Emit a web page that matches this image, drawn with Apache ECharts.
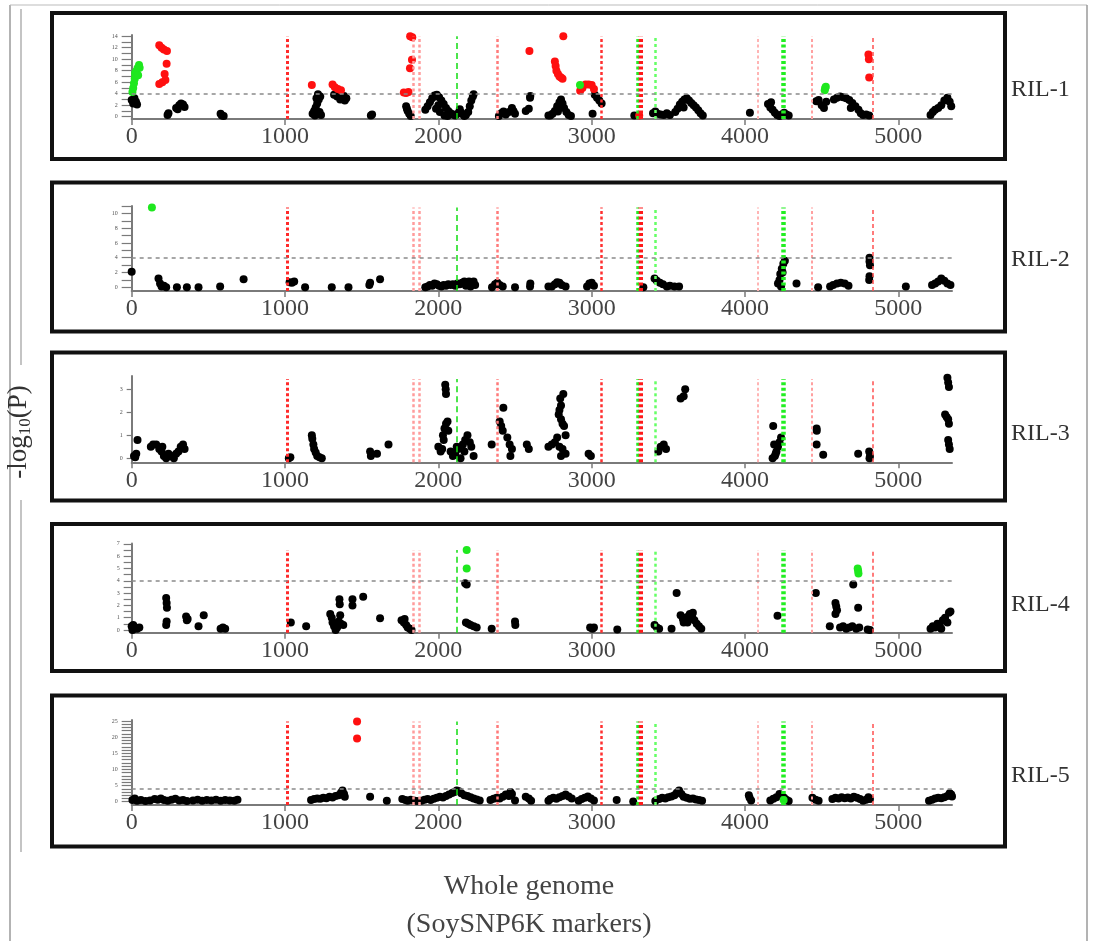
<!DOCTYPE html>
<html><head><meta charset="utf-8">
<script src="https://cdn.jsdelivr.net/npm/echarts@6/dist/echarts.min.js"></script>
<style>html,body{margin:0;padding:0;background:#fff}#c{width:1093px;height:941px}</style>
</head><body><div id="c"></div>
<script>
// ---------- DATA ----------
const panelNames = ['RIL-1','RIL-2','RIL-3','RIL-4','RIL-5'];
const xTicks = [0,1000,2000,3000,4000,5000];
const redLines = [1015,1837,1876,2387,3065,3316,4080,4438,4836];
const greenLines = [2120,3300,3413,4249];
const threshold = 4;

const yTicks1 = [0,1,2,3,4,5,6,7,8,9,10,11,12,13,14];
const yLabels1 = [0,2,4,6,8,10,12,14];
const yTicks2 = [0,1,2,3,4,5,6,7,8,9,10,11];
const yLabels2 = [0,2,4,6,8,10];
const yTicks3 = [0,1,2,3];
const yLabels3 = [0,1,2,3];
const yTicks4 = [0,0.5,1,1.5,2,2.5,3,3.5,4,4.5,5,5.5,6,6.5,7];
const yLabels4 = [0,1,2,3,4,5,6,7];
const yTicks5 = [0,1,2,3,4,5,6,7,8,9,10,11,12,13,14,15,16,17,18,19,20,21,22,23,24,25];
const yLabels5 = [0,5,10,15,20,25];

const black1 = [[0,2.9],[10,2.3],[18,3.2],[28,2.6],[35,2.1],[234,0.3],[240,0.6],
[290,1.5],[300,1.3],[310,2.0],[322,2.3],[335,2.1],[345,1.7],[580,0.5],[588,0.2],[600,0.1],
[1180,0.5],[1190,1.0],[1195,0.2],[1200,1.6],[1205,3.2],[1210,2.3],[1215,3.9],[1220,3.0],[1225,0.8],[1230,3.5],[1235,0.3],
[1320,3.8],[1340,3.5],[1350,3.9],[1360,3.0],[1375,3.4],[1385,3.6],[1390,2.8],[1400,3.2],
[1560,0.2],[1568,0.4],[1790,1.8],[1795,1.4],[1800,1.0],[1810,0.5],[1820,0.1],
[1915,1.2],[1930,1.8],[1945,2.5],[1960,3.2],[1975,3.7],[1985,1.4],[1990,3.8],[2000,2.0],[2005,3.4],[2010,0.8],[2020,2.8],[2035,2.2],[2040,0.2],[2050,1.5],[2060,0.1],[2065,1.0],[2080,0.6],[2095,0.4],[2110,0.2],[2125,0.5],[2140,1.3],[2150,0.7],[2165,0.3],[2170,0.1],[2180,0.3],[2195,0.8],[2205,1.8],[2215,2.8],[2225,3.5],[2230,3.9],
[2395,0.1],[2410,0.6],[2425,0.9],[2440,0.4],[2460,0.8],[2480,1.5],[2490,1.0],[2500,0.5],
[2570,1.0],[2590,1.4],[2598,3.3],[2600,3.6],[2718,0.2],
[2730,0.2],[2745,0.5],[2760,1.0],[2775,1.8],[2780,0.9],[2790,2.5],[2800,3.0],[2810,2.3],[2820,1.5],[2835,0.8],[2850,0.3],[2865,0.1],
[3006,0.5],[3020,3.8],[3035,3.3],[3050,2.8],[3065,2.3],[3278,0.2],
[3400,0.6],[3415,0.9],[3430,0.5],[3450,0.4],[3470,0.3],[3490,0.6],[3510,0.3],
[3545,0.8],[3560,1.4],[3575,2.1],[3590,2.6],[3600,1.6],[3605,3.0],[3620,3.2],[3635,2.8],[3650,2.4],[3665,2.0],[3680,1.6],[3695,1.1],[3710,0.6],[3725,0.2],
[4032,0.7],[4150,2.2],[4165,1.6],[4170,2.5],[4180,1.2],[4195,0.7],[4210,0.3],[4225,0.1],[4240,0.4],[4255,0.7],[4270,0.4],[4285,0.2],
[4465,2.7],[4480,2.9],[4500,2.0],[4515,1.5],[4530,2.6],
[4580,3.0],[4600,3.3],[4620,3.5],[4640,3.4],[4660,3.2],[4680,2.9],[4690,1.5],[4700,2.4],[4720,1.8],[4740,1.2],[4755,0.6],[4770,0.3],[4790,0.4],[4810,0.2],
[5210,0.3],[5225,0.8],[5240,1.2],[5260,1.5],[5280,2.0],[5300,2.8],[5320,3.3],[5335,2.6],[5345,1.8]];
const red1 = [[180,12.4],[195,12.0],[210,11.7],[230,11.4],[228,9.2],[215,7.4],[220,6.4],[200,6.0],[180,5.7],
[1175,5.5],[1310,5.6],[1325,5.1],[1345,4.8],[1365,4.6],
[1775,4.2],[1790,4.1],[1805,4.3],[1816,14.0],[1830,13.8],[1828,9.9],[1815,8.4],
[2594,11.4],[2815,14.0],[2760,9.6],[2765,8.8],[2770,8.0],[2780,7.4],[2790,7.0],[2800,6.8],[2810,6.6],
[2925,4.5],[2940,5.0],[2960,5.6],[2980,5.6],[3000,5.5],[3015,4.8],[3310,0.2],
[4805,10.8],[4808,10.0],[4810,6.8]];
const green1 = [[5,4.3],[10,5.0],[15,5.8],[20,6.6],[22,7.6],[25,7.3],[30,7.9],[38,8.4],[42,7.2],[48,9.0],[52,8.5],
[2924,5.5],[4520,4.6],[4523,5.0],[4527,5.2]];

const black2 = [[0,2.1],[175,1.2],[185,0.5],[195,0.1],[210,0.2],[225,0.0],
[295,0.0],[360,0.0],[436,0.0],[577,0.1],[730,1.1],
[1030,0.7],[1045,0.6],[1060,0.8],[1131,0.0],[1305,0.0],[1414,0.0],[1550,0.3],[1555,0.6],[1620,1.1],
[1915,0.0],[1930,0.1],[1945,0.3],[1960,0.2],[1975,0.5],[1990,0.4],[2005,0.2],[2020,0.1],[2035,0.3],[2050,0.2],[2065,0.4],[2080,0.3],[2095,0.4],[2110,0.2],[2125,0.5],[2140,0.4],[2155,0.6],[2170,0.8],[2180,0.2],[2185,0.7],[2200,0.8],[2210,0.1],[2215,0.6],[2230,0.8],[2240,0.3],
[2350,0.0],[2370,0.4],[2385,0.6],[2400,0.3],[2420,0.1],
[2500,0.0],[2598,0.1],[2600,0.5],[2718,0.1],
[2740,0.1],[2760,0.4],[2775,0.7],[2790,0.6],[2805,0.3],[2830,0.1],
[2970,0.1],[2985,0.5],[3000,0.6],[3015,0.2],[3337,0.0],
[3410,1.2],[3425,0.9],[3445,0.6],[3465,0.4],[3490,0.1],[3510,0.2],[3540,0.1],[3570,0.1],
[4215,0.5],[4225,1.0],[4230,1.8],[4235,0.1],[4240,2.5],[4245,2.0],[4250,3.2],[4260,3.6],
[4336,0.5],[4477,0.0],[4555,0.1],[4575,0.3],[4600,0.5],[4625,0.6],[4650,0.5],[4675,0.2],
[4812,4.0],[4812,3.5],[4815,3.0],[4812,1.5],[4810,1.0],[5049,0.1],
[5220,0.3],[5240,0.5],[5260,0.8],[5280,1.2],[5300,0.9],[5320,0.5],[5340,0.3]];
const red2 = [];
const green2 = [[132,10.8]];

const black3 = [[15,0.1],[23,0.05],[30,0.2],[38,0.8],
[125,0.5],[140,0.6],[160,0.6],[180,0.4],[195,0.3],[200,0.5],[210,0.1],[225,0.0],[240,0.2],[260,0.1],[275,0.0],[290,0.2],[305,0.3],[320,0.5],[335,0.6],[345,0.4],
[1025,0.0],[1035,0.05],[1175,1.0],[1178,0.85],[1185,0.6],[1190,0.4],[1200,0.25],[1210,0.1],[1225,0.05],[1240,0.0],
[1555,0.3],[1560,0.1],[1600,0.2],[1675,0.6],
[2000,0.5],[2015,0.3],[2025,0.4],[2030,1.0],[2035,0.8],[2040,1.3],[2045,3.2],[2048,3.0],[2050,2.8],[2050,1.5],[2060,1.6],[2065,1.2],
[2080,0.3],[2095,0.1],[2110,0.2],[2120,0.5],[2130,0.4],[2145,0.0],[2160,0.6],[2170,0.3],[2175,0.8],[2190,1.0],[2205,0.7],[2215,0.5],[2230,0.1],
[2348,0.6],[2400,1.6],[2410,1.4],[2420,1.2],[2424,2.2],[2450,0.9],[2465,0.6],[2470,0.1],[2480,0.4],
[2577,0.6],[2590,0.4],[2718,0.5],
[2740,0.6],[2760,0.7],[2775,0.9],[2790,0.5],[2810,0.4],[2830,0.2],[2800,0.1],
[2785,1.9],[2790,2.1],[2795,2.6],[2800,2.3],[2800,1.7],[2810,1.5],[2815,2.8],[2820,1.4],[2830,1.0],
[2980,0.2],[2995,0.1],[3435,0.3],[3450,0.5],[3470,0.6],[3485,0.4],[3580,2.6],[3600,2.7],[3610,3.0],
[4184,1.4],[4180,0.0],[4190,0.6],[4195,0.1],[4200,0.2],[4205,0.3],[4215,0.5],[4225,0.7],[4235,0.9],
[4467,1.3],[4468,1.2],[4467,0.6],[4510,0.15],[4738,0.2],[4810,0.3],[4815,0.1],[4812,0.0],
[5320,3.5],[5325,3.3],[5330,3.1],[5305,1.9],[5315,1.8],[5325,1.7],[5330,1.5],[5325,0.8],[5330,0.6],[5335,0.4]];
const red3 = [];
const green3 = [];

const black4 = [[0,0.3],[5,0.0],[10,0.4],[20,0.2],[35,0.1],[50,0.2],
[225,2.6],[228,2.2],[230,1.8],[225,0.4],[228,0.7],[355,1.1],[360,0.8],[365,0.9],[436,0.3],[470,1.2],
[580,0.1],[595,0.2],[610,0.1],[1038,0.6],[1138,0.3],
[1295,1.3],[1305,1.0],[1310,0.6],[1320,0.3],[1330,0.0],[1340,0.2],[1350,0.7],[1360,1.2],[1365,0.5],[1380,0.4],
[1355,2.5],[1357,2.1],[1440,2.5],[1440,2.0],[1510,2.7],[1620,0.95],
[1760,0.8],[1775,0.6],[1780,0.9],[1790,0.4],[1800,0.2],[1815,0.1],[1825,0.0],
[2175,3.8],[2185,3.7],[2180,0.6],[2195,0.5],[2210,0.4],[2230,0.3],[2250,0.2],
[2348,0.1],[2500,0.7],[2502,0.4],
[2990,0.2],[3005,0.1],[3015,0.2],[3167,0.05],[3410,0.4],[3425,0.2],[3440,0.1],[3521,0.1],[3554,3.0],
[3580,1.2],[3595,0.9],[3600,0.6],[3610,1.0],[3625,0.6],[3630,1.1],[3640,1.3],[3655,1.1],[3660,1.4],[3670,0.8],[3685,0.5],[3700,0.3],[3715,0.1],
[4212,1.15],[4462,3.0],[4590,2.2],[4595,1.9],[4600,1.6],[4590,1.3],[4553,0.3],
[4620,0.2],[4640,0.3],[4660,0.1],[4680,0.2],[4700,0.3],[4725,0.1],[4745,0.2],[4800,0.05],[4815,0.0],
[4706,3.7],[4738,1.8],
[5210,0.1],[5225,0.3],[5240,0.2],[5255,0.5],[5270,0.4],[5280,0.1],[5290,0.8],[5305,1.0],[5320,0.6],[5330,1.4],[5340,1.5]];
const red4 = [];
const green4 = [[2185,6.5],[2185,5.0],[4735,5.0],[4738,4.8],[4740,4.6]];

const black5 = [[5,0.5],[20,1.0],[35,0.3],[60,0.5],[90,0.2],[120,0.4],[150,0.8],[170,0.6],[190,1.0],[210,0.5],[235,0.3],[260,0.6],[285,0.9],[310,0.4],[335,0.5],[360,0.2],[400,0.4],[430,0.6],[460,0.3],[490,0.5],[520,0.4],[550,0.6],[580,0.3],[610,0.5],[640,0.4],[670,0.3],[690,0.6],
[1170,0.5],[1190,0.8],[1210,1.0],[1230,0.9],[1250,1.2],[1270,1.1],[1290,1.5],[1310,1.3],[1330,1.8],[1350,2.0],[1365,2.8],[1375,3.5],[1385,2.4],[1390,1.5],
[1555,1.5],[1664,0.3],[1765,0.8],[1785,0.5],[1800,0.3],[1820,0.6],[1840,0.4],[1860,0.2],
[1890,0.3],[1910,0.6],[1930,0.8],[1950,0.5],[1970,0.9],[1990,1.2],[2010,1.5],[2030,1.3],[2050,1.8],[2070,2.2],[2090,2.7],[2105,3.0],[2120,3.5],[2135,3.2],[2150,2.6],[2170,2.0],[2190,1.8],[2210,1.4],[2230,1.0],[2250,0.7],[2270,0.4],
[2340,0.5],[2360,0.9],[2380,1.2],[2400,1.0],[2420,1.5],[2440,2.2],[2460,1.8],[2470,3.0],[2480,2.4],[2500,0.4],
[2570,1.5],[2590,1.0],[2605,0.3],[2718,0.3],
[2730,0.8],[2750,1.2],[2770,0.9],[2790,1.4],[2810,1.8],[2830,2.2],[2850,1.6],[2870,1.0],
[2915,0.3],[2935,0.8],[2955,1.2],[2975,1.6],[2995,1.0],[3015,0.4],[3163,0.5],[3271,0.1],[3415,0.2],
[3440,0.8],[3460,1.2],[3480,1.0],[3500,1.4],[3520,1.6],[3540,2.0],[3555,2.8],[3570,3.5],[3585,2.4],[3600,1.5],[3620,1.2],[3640,0.9],[3660,1.0],[3680,0.7],[3700,0.5],[3720,0.3],
[4025,2.0],[4030,1.2],[4040,0.4],
[4165,0.4],[4185,0.9],[4205,1.4],[4225,2.4],[4240,1.8],[4255,1.2],[4270,0.6],[4285,0.2],
[4440,1.2],[4460,0.6],[4480,0.3],
[4570,0.8],[4590,1.2],[4610,1.0],[4630,1.4],[4650,1.1],[4670,1.3],[4690,1.0],[4710,1.5],[4730,1.2],[4750,0.8],[4770,0.3],[4790,0.6],[4805,1.4],[4815,0.8],
[5200,0.3],[5220,0.6],[5240,1.0],[5260,1.2],[5280,1.1],[5300,1.4],[5320,1.8],[5335,2.6],[5345,2.2],[5350,1.6]];
const red5 = [[1470,24.8],[1470,19.6]];
const green5 = [[4252,0.5]];

// ---------- LAYOUT / STYLE ----------
const blacks = [black1,black2,black3,black4,black5];
const reds = [red1,red2,red3,red4,red5];
const greens = [green1,green2,green3,green4,green5];
const yTicks = [yTicks1,yTicks2,yTicks3,yTicks4,yTicks5];
const yLabels = [yLabels1,yLabels2,yLabels3,yLabels4,yLabels5];
const layout = [
  {top:35,   height:84,   ymin:-0.4,  ymax:14.2, vtop:14.0, tick:10, thr:true},
  {top:206,  height:85,   ymin:-0.5,  ymax:11.0, vtop:10.8, tick:10, thr:true},
  {top:376,  height:86.3, ymin:-0.174,ymax:3.58, vtop:3.45, tick:5,  thr:false},
  {top:543.5,height:89.2, ymin:-0.22, ymax:7.03, vtop:6.5,  tick:8,  thr:true},
  {top:720,  height:85,   ymin:-1.02, ymax:25.3, vtop:24.8, tick:10, thr:true}
];
const redStyles = [
  {color:'#ff2a2a',width:3,type:[3,2.5]},
  {color:'#ff9c9c',width:2.5,type:[3,2.5]},
  {color:'#ff9c9c',width:2.5,type:[3,2.5]},
  {color:'#ff7a7a',width:2.5,type:[3,2.5]},
  {color:'#ff3030',width:2.5,type:[3,2.5]},
  {color:'#ff1a1a',width:5,type:[3,2.5]},
  {color:'#ffb4b4',width:2,type:[3,2.5]},
  {color:'#ffa0a0',width:2,type:[3,2.5]},
  {color:'#ff5050',width:1.5,type:[4,3]}
];
const greenStyles = [
  {color:'#11dd11',width:1.5,type:[6,4]},
  {color:'#22ee22',width:2.5,type:[3,2.5]},
  {color:'#66ff66',width:2.5,type:[3,3]},
  {color:'#22ee22',width:4.5,type:[3,2.5]}
];
const SERIF = '"Liberation Serif","DejaVu Serif",serif';
const LEFT = 131.67, RIGHT = 1093 - 952;

const grid = [], xAxis = [], yAxis = [], series = [], graphic = [];
layout.forEach((L, i) => {
  grid.push({left:LEFT, right:RIGHT, top:L.top, height:L.height, containLabel:false});
  xAxis.push({gridIndex:i, type:'value', min:0, max:5350,
    axisLine:{show:true, onZero:false, lineStyle:{color:'#7a7a7a', width:2}},
    axisTick:{show:true, length:6, customValues:xTicks, lineStyle:{color:'#7a7a7a', width:1.5}},
    axisLabel:{customValues:xTicks, formatter:v => String(v), fontFamily:SERIF, fontSize:24, color:'#444', margin:6},
    splitLine:{show:false}});
  yAxis.push({gridIndex:i, type:'value', min:L.ymin, max:L.ymax,
    axisLine:{show:true, onZero:false, lineStyle:{color:'#7a7a7a', width:2}},
    axisTick:{show:true, length:L.tick, customValues:yTicks[i], lineStyle:{color:'#7a7a7a', width:1.2}},
    axisLabel:{customValues:yLabels[i], formatter:v => String(v), fontSize:6, color:'#555', margin:L.tick+4, fontFamily:SERIF},
    splitLine:{show:false}});
  const ml = [];
  redLines.forEach((x, k) => ml.push([{coord:[x, L.ymin], lineStyle:redStyles[k]}, {coord:[x, L.vtop]}]));
  greenLines.forEach((x, k) => ml.push([{coord:[x, L.ymin], lineStyle:greenStyles[k]}, {coord:[x, L.vtop]}]));
  if (L.thr) ml.push({yAxis:threshold, lineStyle:{color:'#8a8a8a', width:1.5, type:[4,4]}});
  series.push({type:'line', xAxisIndex:i, yAxisIndex:i, data:[], z:1, silent:true,
    markLine:{silent:true, symbol:['none','none'], animation:false, label:{show:false}, data:ml}});
  const sc = (d, c) => ({type:'scatter', xAxisIndex:i, yAxisIndex:i, data:d, symbolSize:8,
    itemStyle:{color:c, opacity:1}, z:3, clip:false, silent:true, animation:false});
  series.push(sc(blacks[i], '#000'));
  series.push(sc(reds[i], '#ff1010'));
  series.push(sc(greens[i], '#1ee81e'));
});

// panel frames
const boxes = [[52,13,953,146],[52,182.5,953,149],[52,352.5,953,148],[52,524,953,147],[52,695.5,953,151]];
boxes.forEach(b => graphic.push({type:'rect', shape:{x:b[0],y:b[1],width:b[2],height:b[3]},
  style:{fill:null, stroke:'#111', lineWidth:4}, z:10}));
const labelY = [90,260,434,605,776];
panelNames.forEach((n, i) => graphic.push({type:'text', x:1011, y:labelY[i],
  style:{text:n, fontFamily:SERIF, fontSize:24, fill:'#333', align:'left', verticalAlign:'middle'}}));
// outer frame lines
graphic.push({type:'line', shape:{x1:10,y1:5,x2:10,y2:941}, style:{stroke:'#9a9a9a', lineWidth:1.5}});
graphic.push({type:'line', shape:{x1:10,y1:5,x2:1087,y2:5}, style:{stroke:'#bbb', lineWidth:1}});
graphic.push({type:'line', shape:{x1:1087,y1:5,x2:1087,y2:941}, style:{stroke:'#9a9a9a', lineWidth:1.5}});
graphic.push({type:'line', shape:{x1:21,y1:9,x2:21,y2:365}, style:{stroke:'#c4c4c4', lineWidth:2}});
graphic.push({type:'line', shape:{x1:21,y1:500,x2:21,y2:852}, style:{stroke:'#c4c4c4', lineWidth:2}});
// y title
graphic.push({type:'text', x:19, y:432, rotation:Math.PI/2,
  style:{text:'{a|-log}{s|10}{a|(P)}', align:'center', verticalAlign:'middle',
    rich:{a:{fontFamily:SERIF, fontSize:27, fill:'#333', lineHeight:30},
          s:{fontFamily:SERIF, fontSize:17, fill:'#333', lineHeight:15, verticalAlign:'bottom'}}}});
// x title
graphic.push({type:'text', x:529, y:887, style:{text:'Whole genome', fontFamily:SERIF, fontSize:28, fill:'#444', align:'center', verticalAlign:'middle'}});
graphic.push({type:'text', x:529, y:925, style:{text:'(SoySNP6K markers)', fontFamily:SERIF, fontSize:28, fill:'#444', align:'center', verticalAlign:'middle'}});

const chart = echarts.init(document.getElementById('c'), null, {renderer:'canvas'});
chart.setOption({animation:false, backgroundColor:'#fff', grid, xAxis, yAxis, series, graphic});
</script></body></html>
